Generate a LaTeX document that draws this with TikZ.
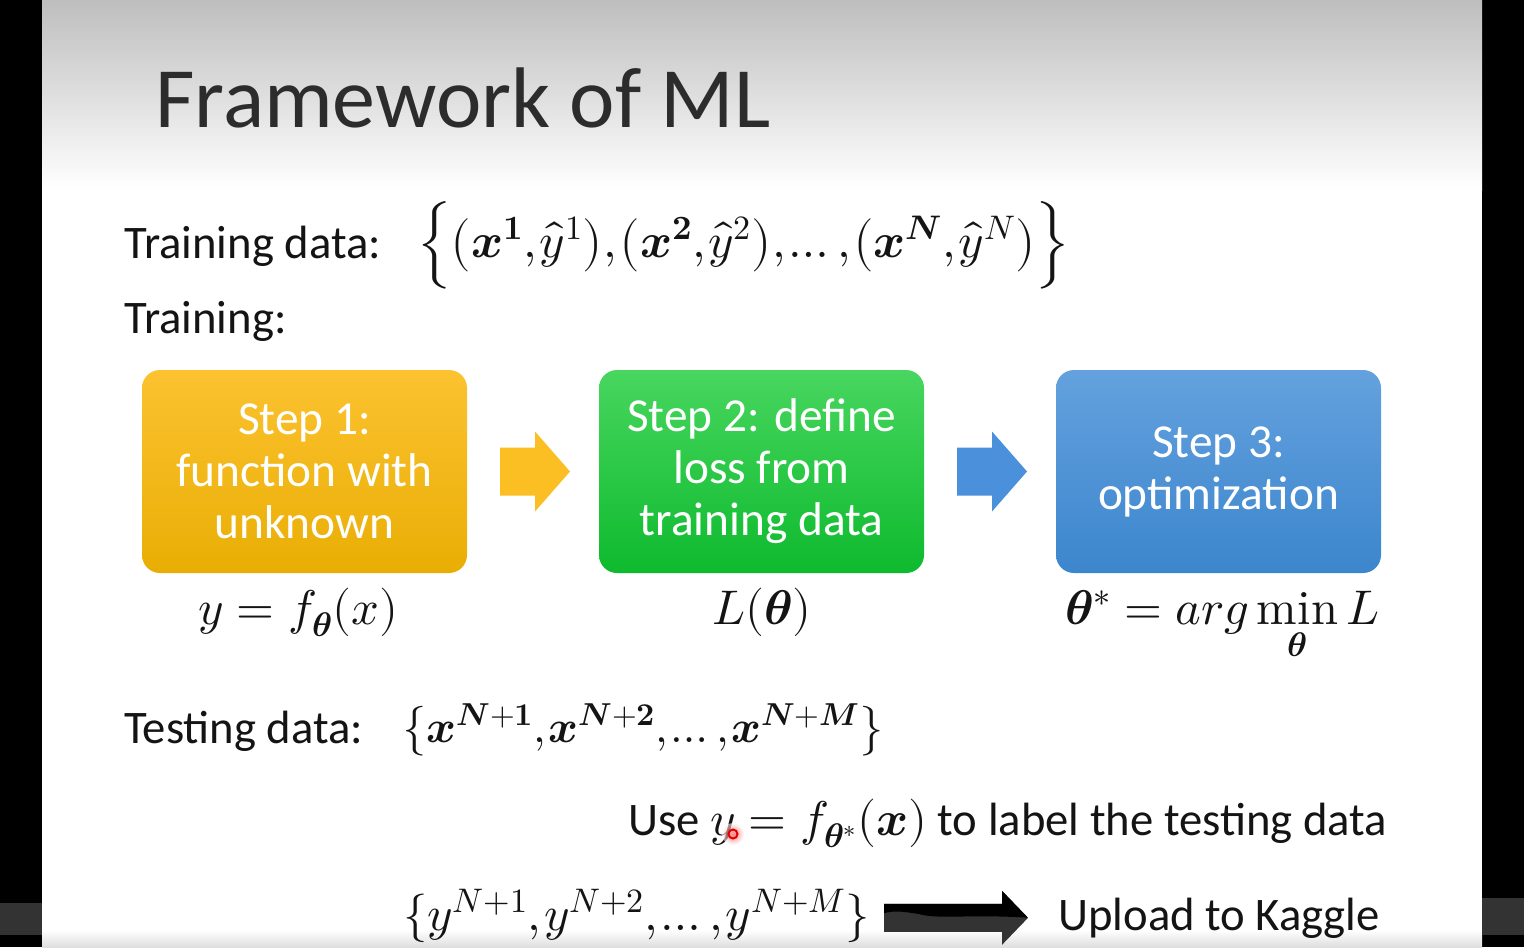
\documentclass[tikz,border=0pt]{standalone}
\usepackage{fontspec}
\usepackage{unicode-math}
\setmainfont{Carlito}
\usetikzlibrary{calc}

\definecolor{orTop}{RGB}{252,194,48}
\definecolor{orBot}{RGB}{233,174,4}
\definecolor{grTop}{RGB}{72,214,95}
\definecolor{grBot}{RGB}{14,186,46}
\definecolor{blTop}{RGB}{100,161,222}
\definecolor{blBot}{RGB}{60,134,205}
\definecolor{arrOr}{RGB}{251,190,35}
\definecolor{arrBl}{RGB}{74,144,219}
\definecolor{bgTop}{RGB}{190,190,190}
\definecolor{bgBot}{RGB}{222,222,222}
\definecolor{ink}{RGB}{20,20,20}
\definecolor{player}{RGB}{51,51,51}

\newcommand\tc{,\mkern-2mu}
\newcommand\opmin{\mathop{\symup{min}}\limits}

\tikzset{
  stepbox/.style={rounded corners=13.5pt, minimum width=243.75pt, minimum height=152.25pt,
    align=center, text=white, font=\fontsize{35.5}{39}\selectfont, inner sep=0pt},
  bodytext/.style={font=\fontsize{35}{42}\selectfont, text=ink, inner sep=0pt},
  mathtext/.style={font=\fontsize{36.5}{44}\selectfont, text=ink, inner sep=0pt},
  titletext/.style={font=\fontsize{64.5}{70}\selectfont, text=ink!90, inner sep=0pt},
}

\begin{document}
\begin{tikzpicture}[x=0.75pt,y=-0.75pt]
\useasboundingbox (0,0) rectangle (1524,947);
% background
\fill[black] (0,0) rectangle (1524,947);
\fill[white] (42,0) rectangle (1482,947);
\shade[top color=bgTop, bottom color=white] (42,0) rectangle (1482,190);
\shade[top color=white, bottom color=bgBot] (42,930) rectangle (1482,947);
\fill[player] (0,903) rectangle (42,935);
\fill[player] (1482,898) rectangle (1524,935);

% title
\node[titletext, anchor=base west] (title) at (155,127) {Framework of ML};

% training data
\node[bodytext, anchor=base west] (trd) at (124,258) {Training data:};
\node[mathtext, anchor=west] (trset) at (418,245)
  {$\Bigl\{\bigl(\symbfit{x}^{\symbf{1}}\tc\hat{y}^{1}\bigr)\tc\bigl(\symbfit{x}^{\symbf{2}}\tc\hat{y}^{2}\bigr)\tc\ldots\tc\bigl(\symbfit{x}^{\symbfit{N}}\tc\hat{y}^{N}\bigr)\Bigr\}$};
\node[bodytext, anchor=base west] (tr) at (124,333) {Training:};

% step boxes
\node[stepbox, top color=orTop, bottom color=orBot] (s1) at (304.5,471.5) {Step 1:\\function with\\unknown};
\node[stepbox, top color=grTop, bottom color=grBot] (s2) at (761.5,471.5) {Step 2: define\\loss from\\training data};
\node[stepbox, top color=blTop, bottom color=blBot] (s3) at (1218.5,471.5) {Step 3:\\optimization};

% block arrows
\coordinate (m1) at ($(s1.east)!0.5!(s2.west)$);
\coordinate (m2) at ($(s2.east)!0.5!(s3.west)$);
\fill[arrOr] ($(m1)+(-33,-24)$) -- ($(m1)+(2,-24)$) -- ($(m1)+(2,-40)$) -- ($(m1)+(37,0)$)
  -- ($(m1)+(2,40)$) -- ($(m1)+(2,24)$) -- ($(m1)+(-33,24)$) -- cycle;
\fill[arrBl] ($(m2)+(-33,-24)$) -- ($(m2)+(2,-24)$) -- ($(m2)+(2,-40)$) -- ($(m2)+(37,0)$)
  -- ($(m2)+(2,40)$) -- ($(m2)+(2,24)$) -- ($(m2)+(-33,24)$) -- cycle;

% formulas under boxes
\node[mathtext, anchor=base] (f1) at (298,624) {$y=f_{\symbfit{\theta}}(x)$};
\node[mathtext, anchor=base] (f2) at (762,624) {$L(\symbfit{\theta})$};
\node[mathtext, anchor=base west] (f3) at (1065,624) {$\symbfit{\theta}^{*}=arg\opmin_{\symbfit{\theta}}L$};

% testing data
\node[bodytext, anchor=base west] (ted) at (124,743) {Testing data:};
\node[mathtext, font=\fontsize{34}{40}\selectfont, anchor=west] (teset) at (402,731)
  {$\bigl\{\symbfit{x}^{\symbfit{N}+\symbf{1}}\tc\symbfit{x}^{\symbfit{N}+\symbf{2}}\tc\ldots\tc\symbfit{x}^{\symbfit{N}+\symbfit{M}}\bigr\}$};

% use line
\node[bodytext, anchor=base west] (use) at (628,835)
  {Use {\fontsize{36.5}{44}\selectfont$y=f_{\symbfit{\theta}^{*}}(\symbfit{x})$} to label the testing data};

% laser pointer dot
\shade[inner color=red!80, outer color=white, opacity=0.6] (733,834) circle (11);
\draw[red!90!black, line width=1.5pt] (733,834) circle (4.5);

% output
\node[mathtext, anchor=base west] (ys) at (403,930) {$\{y^{N+1}\tc y^{N+2}\tc\ldots\tc y^{N+M}\}$};
\node[bodytext, anchor=base west] (kag) at (1058,930) {Upload to Kaggle};
\coordinate (bt) at ($(kag.west)+(-30,0)$);
\coordinate (bs) at ($(ys.east |- bt)+(24,0)$);
\coordinate (bs) at (bs -| 884,0);
\fill[player] ($(bs)+(0,-14)$) -- ($(bt)+(-26,-14)$) -- ($(bt)+(-26,-27)$) -- (bt)
  -- ($(bt)+(-26,27)$) -- ($(bt)+(-26,14)$) -- ($(bs)+(0,14)$) -- cycle;
\begin{scope}
  \clip ($(bs)+(0,-14)$) -- ($(bt)+(-26,-14)$) -- ($(bt)+(-26,-27)$) -- (bt)
    -- ($(bt)+(-26,27)$) -- ($(bt)+(-26,14)$) -- ($(bs)+(0,14)$) -- cycle;
  \fill[black] ($(bs)+(-2,-30)$) -- ($(bt)+(2,-30)$) -- ($(bt)+(2,0)$)
    .. controls ($(bt)+(-60,-4)$) and ($(bt)+(-90,2)$) .. ($(bt)+(-110,-4)$)
    .. controls ($(bt)+(-125,-6)$) and ($(bs)+(10,-8)$) .. ($(bs)+(-2,-4)$) -- cycle;
\end{scope}
\end{tikzpicture}
\end{document}
